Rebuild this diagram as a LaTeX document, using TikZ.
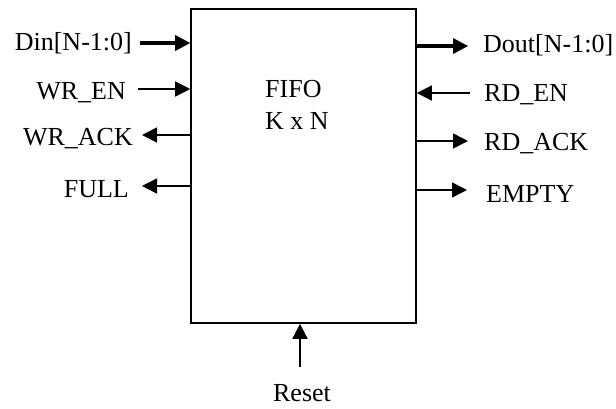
\documentclass[tikz,border=0pt]{standalone}
\usepackage{fontspec}
\setmainfont{Liberation Serif}
\usetikzlibrary{arrows.meta}
\begin{document}
\begin{tikzpicture}[x=1pt,y=-1pt,
  lbl/.style={inner sep=0pt,font=\fontsize{26}{32}\selectfont},
  sig/.style={line width=1.5pt,-{Triangle[length=15pt,width=15pt]}},
  bus/.style={line width=3.6pt,-{Triangle[length=15pt,width=16pt,line width=0pt]}},
  boxst/.style={draw,line width=1.6pt,minimum width=225pt,minimum height=314pt,inner sep=0pt}]
\useasboundingbox (0,0) rectangle (616,408);
\node[boxst] (fifo) at (303.5,166) {};
\node[lbl,anchor=base west,align=left] (title) at (265,129) {FIFO\\K x N};
% left side
\node[lbl,anchor=base east] (din) at (132,50) {Din[N-1:0]};
\node[lbl,anchor=base east] (wren) at (126,99) {WR\_EN};
\node[lbl,anchor=base east] (wrack) at (133,145) {WR\_ACK};
\node[lbl,anchor=base east] (full) at (129,197) {FULL};
% right side
\node[lbl,anchor=base west] (dout) at (483,52) {Dout[N-1:0]};
\node[lbl,anchor=base west] (rden) at (484,101) {RD\_EN};
\node[lbl,anchor=base west] (rdack) at (484,150) {RD\_ACK};
\node[lbl,anchor=base west] (empty) at (486,202) {EMPTY};
\node[lbl,anchor=base] (reset) at (302,401) {Reset};
% connector ends
\coordinate (cdin) at (140,43);
\coordinate (cwren) at (138,89);
\coordinate (cwrack) at (142,135);
\coordinate (cfull) at (142,186);
\coordinate (cdout) at (468,46);
\coordinate (crden) at (470,93);
\coordinate (crdack) at (468,141);
\coordinate (cempty) at (467,190);
\coordinate (creset) at (300,367);
\draw[bus] (cdin) -- (cdin -| fifo.west);
\draw[sig] (cwren) -- (cwren -| fifo.west);
\draw[sig] (cwrack -| fifo.west) -- (cwrack);
\draw[sig] (cfull -| fifo.west) -- (cfull);
\draw[bus] (cdout -| fifo.east) -- (cdout);
\draw[sig] (crden) -- (crden -| fifo.east);
\draw[sig] (crdack -| fifo.east) -- (crdack);
\draw[sig] (cempty -| fifo.east) -- (cempty);
\draw[sig] (creset) -- (creset |- fifo.south);
\end{tikzpicture}
\end{document}
